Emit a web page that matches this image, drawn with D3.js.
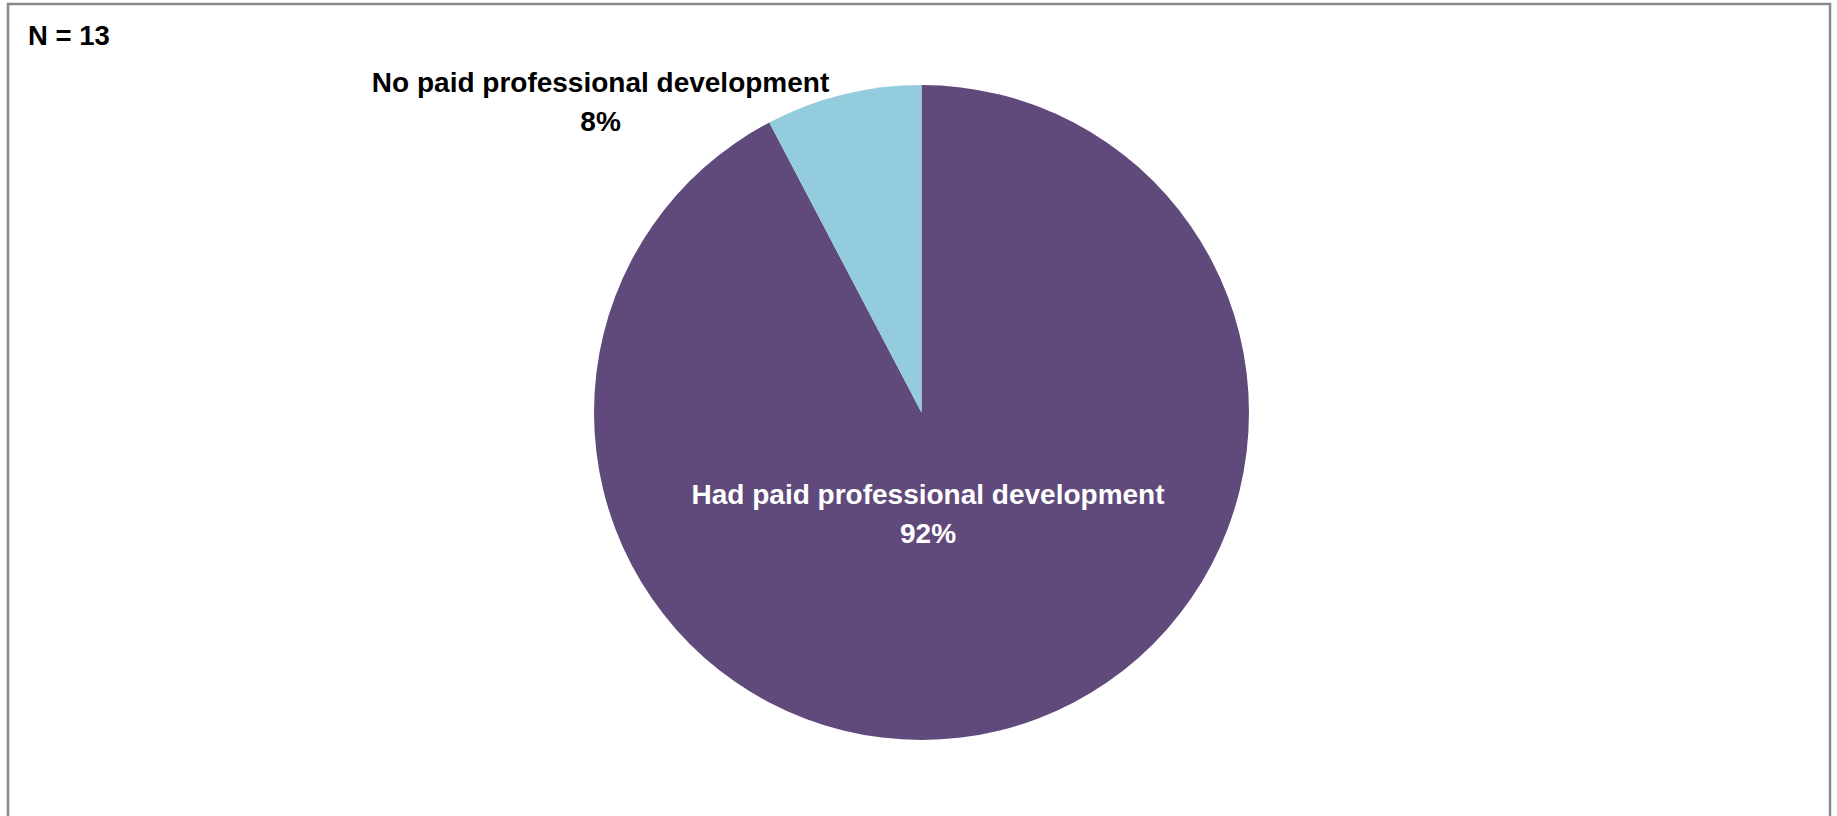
<!DOCTYPE html>
<html>
<head>
<meta charset="utf-8">
<script src="https://cdn.jsdelivr.net/npm/d3@7"></script>
<style>
  body { margin: 0; background: #fff; }
  text { font-family: "Liberation Sans", Arial, sans-serif; font-weight: bold; }
</style>
</head>
<body>
<div id="container"></div>
<script>
/* CONSTANTS AND GLOBALS */
const width = 1837,
      height = 816;

// DATA
const categories = ["Had paid professional development", "No paid professional development"];
const counts = [12, 1];
const percentLabels = ["92%", "8%"];
const sampleSize = 13;
const colors = ["#604A7B", "#93CDDD"];

const cx = 921.5, cy = 412.5, radius = 327.5;

// CREATE SVG ELEMENT
const svg = d3.select("#container")
  .append("svg")
  .attr("width", width)
  .attr("height", height);

// chart frame (bottom edge runs off the picture)
svg.append("rect")
  .attr("x", 8)
  .attr("y", 4)
  .attr("width", 1822)
  .attr("height", 840)
  .attr("fill", "#fff")
  .attr("stroke", "#898989")
  .attr("stroke-width", 2.5);

svg.append("text")
  .attr("x", 28)
  .attr("y", 45)
  .attr("font-size", 27.5)
  .attr("fill", "#000")
  .text(`N = ${sampleSize}`);

// PIE
const pie = d3.pie().sort(null).value(d => d)
const arcGen = d3.arc().innerRadius(0).outerRadius(radius)

const g = svg.append("g")
  .attr("transform", `translate(${cx}, ${cy})`);

g.selectAll("path.slice")
  .data(pie(counts))
  .join("path")
  .attr("class", "slice")
  .attr("fill", (d, i) => colors[i])
  .attr("d", arcGen);

// LABELS (offsets as fractions of the radius)
const labelPos = [
  { dx: 0.02, dy: 0.28, color: "#fff" },
  { dx: -0.98, dy: -0.98, color: "#000" }
];

const labels = g.selectAll("text.label")
  .data(categories)
  .join("text")
  .attr("class", "label")
  .attr("text-anchor", "middle")
  .attr("font-size", 28)
  .attr("fill", (d, i) => labelPos[i].color)
  .attr("transform", (d, i) => `translate(${labelPos[i].dx * radius}, ${labelPos[i].dy * radius})`);

labels.append("tspan")
  .attr("x", 0)
  .attr("y", 0)
  .text(d => d);

labels.append("tspan")
  .attr("x", 0)
  .attr("y", 39)
  .text((d, i) => percentLabels[i]);
</script>
</body>
</html>
